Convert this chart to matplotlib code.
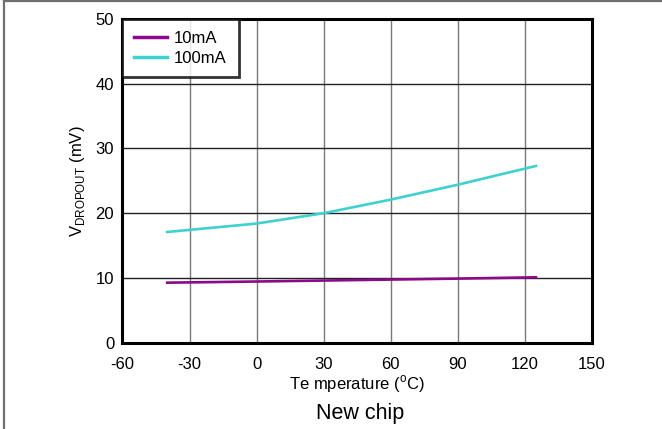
import matplotlib.pyplot as plt
from matplotlib.lines import Line2D

plt.rcParams.update(
    {
        "font.family": ["Liberation Sans", "DejaVu Sans"],
        "mathtext.fontset": "custom",
        "mathtext.rm": "Liberation Sans",
        "font.size": 12,
        "axes.unicode_minus": False,
    }
)

temps = [-40, 0, 30, 60, 90, 125]
drop_10ma = [9.27, 9.45, 9.6, 9.75, 9.9, 10.1]
drop_100ma = [17.1, 18.4, 20.0, 22.1, 24.4, 27.3]
xticks = [-60, -30, 0, 30, 60, 90, 120, 150]
yticks = [0, 10, 20, 30, 40, 50]

fig = plt.figure(figsize=(6.62, 4.29), dpi=100)
ax = fig.add_axes([0.185, 0.2012, 0.709, 0.7545])

ax.plot(temps, drop_10ma, color="#8b0a8b", lw=1.9, label="10mA")
ax.plot(temps, drop_100ma, color="#3fd0d0", lw=1.9, label="100mA")

ax.set_xlim(-60, 150)
ax.set_ylim(0, 50)
ax.set_xticks(xticks)
ax.set_yticks(yticks)
ax.tick_params(axis="x", length=0, pad=10, labelsize=12)
ax.tick_params(axis="y", length=0, pad=6, labelsize=12)

# vertical grid gray, horizontal darker
for x in xticks[1:-1]:
    ax.axvline(x, color="#7a7a7a", lw=1.0, zorder=0)
for y in yticks[1:-1]:
    ax.axhline(y, color="#222222", lw=1.0, zorder=0)

for s in ax.spines.values():
    s.set_linewidth(2.2)

ax.set_xlabel(r"Te mperature ($^{\mathrm{o}}$C)", fontsize=12, labelpad=1)
ax.set_ylabel(r"V$_{\mathrm{DROPOUT}}$ (mV)", fontsize=12, labelpad=6)

leg = ax.legend(loc="upper left", fontsize=12, frameon=True, fancybox=False,
                borderaxespad=0, handlelength=2.0, handletextpad=0.4,
                labelspacing=0.3, borderpad=0.7)
leg.get_frame().set_edgecolor("black")
leg.get_frame().set_linewidth(2.0)
for h in leg.get_lines():
    h.set_linewidth(2.5)

fig.text(0.544, 0.035, "New chip", ha="center", va="center", fontsize=15.5)

# outer frame (top and left edges)
fig.add_artist(Line2D([0.0053, 0.0053], [0, 1], transform=fig.transFigure, color="#707070", lw=1.6))
fig.add_artist(Line2D([0.0053, 1], [0.997, 0.997], transform=fig.transFigure, color="#707070", lw=1.6))

fig.savefig("out.png", dpi=100)
